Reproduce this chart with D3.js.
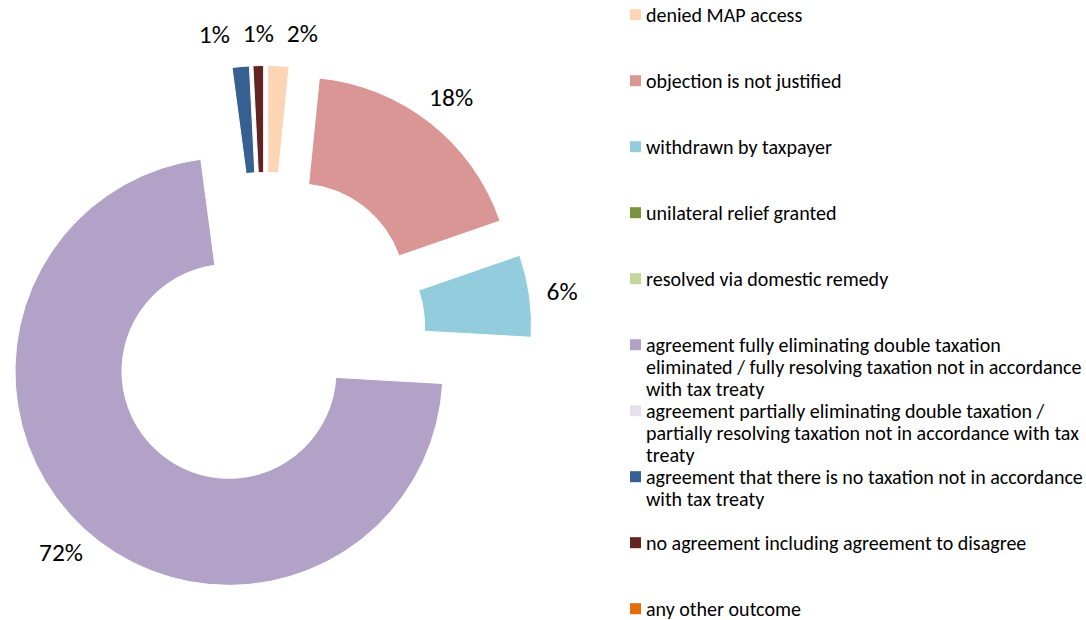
<!DOCTYPE html>
<html>
<head>
<meta charset="utf-8">
<script src="https://cdn.jsdelivr.net/npm/d3@7"></script>
<style>
  body { margin: 0; background: #fff; }
  text { font-family: Carlito, Calibri, Lato, sans-serif; fill: #000; }
</style>
</head>
<body>
<div id="chart-map"></div>
<script>
// MAP case outcomes (share of closed cases, %)
var categories = [
    'denied MAP access',
    'objection is not justified',
    'withdrawn by taxpayer',
    'unilateral relief granted',
    'resolved via domestic remedy',
    'agreement fully eliminating double taxation\neliminated / fully resolving taxation not in accordance\nwith tax treaty',
    'agreement partially eliminating double taxation /\npartially resolving taxation not in accordance with tax\ntreaty',
    'agreement that there is no taxation not in accordance\nwith tax treaty',
    'no agreement including agreement to disagree',
    'any other outcome'
];
var shares = [1.6, 18.1, 6.2, 0, 0, 72.0, 0, 1.3, 0.8, 0];
var colors = ['#fcd5b5', '#d99694', '#93cddd', '#77933c', '#c3d69b',
              '#b3a2c7', '#e6e0ec', '#376092', '#632523', '#e46c0a'];

var svgWidth = 1086, svgHeight = 620;

var svg = d3.select('#chart-map').append('svg')
    .attr('width', svgWidth)
    .attr('height', svgHeight);

// size fonts so the text takes the same room as in the original
function fitSize(str, base, target) {
    var t = svg.append('text').style('font-size', base + 'px').text(str);
    var w = t.node().getComputedTextLength();
    t.remove();
    return base * target / w;
}
var legendSize = fitSize('agreement that there is no taxation not in accordance', 20, 437);
var pctSize = fitSize('18%', 25, 44);

var cx = 265, cy = 332.5;
var outerR = 214, innerR = 107, explode = 53, labelR = 247;

var total = d3.sum(shares);
var pct = d3.format('.0%');

var pie = d3.pie()
    .sort(null)
    .value(function(d) { return d; });

var arc = d3.arc()
    .innerRadius(innerR)
    .outerRadius(outerR);

var slices = pie(shares).map(function(d, i) {
    var mid = (d.startAngle + d.endAngle) / 2;
    d.index = i;
    d.ox = cx + explode * Math.sin(mid);
    d.oy = cy - explode * Math.cos(mid);
    d.lx = d.ox + labelR * Math.sin(mid);
    d.ly = d.oy - labelR * Math.cos(mid);
    return d;
}).filter(function(d) { return d.value > 0; });

var g = svg.append('g');

g.selectAll('path')
    .data(slices)
    .enter()
    .append('path')
    .attr('transform', function(d) { return 'translate(' + d.ox + ',' + d.oy + ')'; })
    .attr('d', arc)
    .style('fill', function(d) { return colors[d.index]; })
    .style('stroke', '#fff')
    .style('stroke-width', 1);

// spread the thin slices' labels at the top so they don't collide
var topLabels = slices.filter(function(d) { return d.ly < 80; })
    .sort(function(a, b) { return a.lx - b.lx; });
var gap = 44;
var meanX = d3.mean(topLabels, function(d) { return d.lx; });
topLabels.forEach(function(d, i) {
    d.lx = meanX + (i - (topLabels.length - 1) / 2) * gap;
});

g.selectAll('text.pct')
    .data(slices)
    .enter()
    .append('text')
    .attr('class', 'pct')
    .attr('x', function(d) { return d.lx; })
    .attr('y', function(d) { return d.ly; })
    .attr('dy', '0.35em')
    .attr('text-anchor', 'middle')
    .style('font-size', pctSize + 'px')
    .text(function(d) { return pct(d.value / total); });

// Legend
var legendY = d3.scalePoint()
    .domain(d3.range(categories.length))
    .range([14.7, 608.7]);

var legendG = svg.selectAll('.legend')
    .data(categories)
    .enter().append('g')
    .attr('class', 'legend')
    .attr('transform', function(d, i) { return 'translate(630,' + legendY(i) + ')'; });

legendG.append('rect')
    .attr('x', 0)
    .attr('y', -5.5)
    .attr('width', 11)
    .attr('height', 11)
    .style('fill', function(d, i) { return colors[i]; });

legendG.append('text')
    .attr('x', 16)
    .attr('y', 0)
    .style('font-size', legendSize + 'px')
    .selectAll('tspan')
    .data(function(d) { return d.split('\n'); })
    .enter().append('tspan')
    .attr('x', 16)
    .attr('y', function(d, i) { return i * 22; })
    .attr('dy', '0.35em')
    .text(function(d) { return d; });
</script>
</body>
</html>
